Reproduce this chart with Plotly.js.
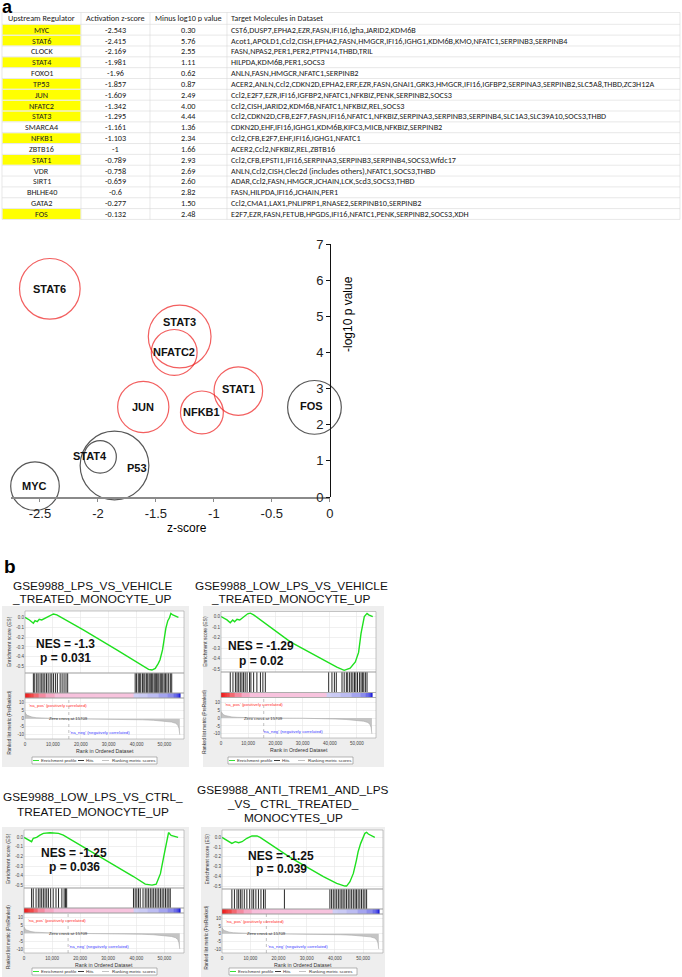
<!DOCTYPE html>
<html><head><meta charset="utf-8">
<script src="https://cdn.plot.ly/plotly-3.0.1.min.js"></script>
<style>html,body{margin:0;padding:0;background:#fff}#chart{width:682px;height:977px}</style>
</head><body><div id="chart"></div>
<script>
// ================= DATA =================
// Panel a: table
const tableHeaders = ['Upstream Regulator','Activation z-score','Minus log10 p value','Target Molecules in Dataset'];
const regulators = ['MYC','STAT6','CLOCK','STAT4','FOXO1','TP53','JUN','NFATC2','STAT3','SMARCA4','NFKB1','ZBTB16','STAT1','VDR','SIRT1','BHLHE40','GATA2','FOS'];
const zScores = [-2.543,-2.415,-2.169,-1.981,-1.96,-1.857,-1.609,-1.342,-1.295,-1.161,-1.103,-1,-0.789,-0.758,-0.659,-0.6,-0.277,-0.132];
const minusLog10P = [0.30,5.76,2.55,1.11,0.62,0.87,2.49,4.00,4.44,1.36,2.34,1.66,2.93,2.69,2.60,2.82,1.50,2.48];
const targetMolecules = [
 'CST6,DUSP7,EPHA2,EZR,FASN,IFI16,Igha,JARID2,KDM6B',
 'Acot1,APOLD1,Ccl2,CISH,EPHA2,FASN,HMGCR,IFI16,IGHG1,KDM6B,KMO,NFATC1,SERPINB3,SERPINB4',
 'FASN,NPAS2,PER1,PER2,PTPN14,THBD,TRIL',
 'HILPDA,KDM6B,PER1,SOCS3',
 'ANLN,FASN,HMGCR,NFATC1,SERPINB2',
 'ACER2,ANLN,Ccl2,CDKN2D,EPHA2,ERF,EZR,FASN,GNAI1,GRK3,HMGCR,IFI16,IGFBP2,SERPINA3,SERPINB2,SLC5A8,THBD,ZC3H12A',
 'Ccl2,E2F7,EZR,IFI16,IGFBP2,NFATC1,NFKBIZ,PENK,SERPINB2,SOCS3',
 'Ccl2,CISH,JARID2,KDM6B,NFATC1,NFKBIZ,REL,SOCS3',
 'Ccl2,CDKN2D,CFB,E2F7,FASN,IFI16,NFATC1,NFKBIZ,SERPINA3,SERPINB3,SERPINB4,SLC1A3,SLC39A10,SOCS3,THBD',
 'CDKN2D,EHF,IFI16,IGHG1,KDM6B,KIFC3,MICB,NFKBIZ,SERPINB2',
 'Ccl2,CFB,E2F7,EHF,IFI16,IGHG1,NFATC1',
 'ACER2,Ccl2,NFKBIZ,REL,ZBTB16',
 'Ccl2,CFB,EPSTI1,IFI16,SERPINA3,SERPINB3,SERPINB4,SOCS3,Wfdc17',
 'ANLN,Ccl2,CISH,Clec2d (includes others),NFATC1,SOCS3,THBD',
 'ADAR,Ccl2,FASN,HMGCR,JCHAIN,LCK,Scd3,SOCS3,THBD',
 'FASN,HILPDA,IFI16,JCHAIN,PER1',
 'Ccl2,CMA1,LAX1,PNLIPRP1,RNASE2,SERPINB10,SERPINB2',
 'E2F7,EZR,FASN,FETUB,HPGDS,IFI16,NFATC1,PENK,SERPINB2,SOCS3,XDH'
];
const highlightedRegulators = ['MYC','STAT6','STAT4','TP53','JUN','NFATC2','STAT3','NFKB1','STAT1','FOS'];
const bubbleLabelAlias = {TP53:'P53'};
const redBubbles = ['STAT6','JUN','NFATC2','STAT3','NFKB1','STAT1'];

// Panel b: GSEA
const gseaTitles = [
 ['GSE9988_LPS_VS_VEHICLE','_TREATED_MONOCYTE_UP'],
 ['GSE9988_LOW_LPS_VS_VEHICLE','_TREATED_MONOCYTE_UP'],
 ['GSE9988_LOW_LPS_VS_CTRL_','TREATED_MONOCYTE_UP'],
 ['GSE9988_ANTI_TREM1_AND_LPS','_VS_ CTRL_TREATED_','MONOCYTES_UP']
];
const gseaNES = ['-1.3','-1.29','-1.25','-1.25'];
const gseaP = ['0.031','0.02','0.036','0.039'];

const esRank1 = [0,1600,3000,3600,4400,5100,6000,7200,8400,10200,11400,20900,32900,41300,44300,45500,46700,47800,48400,49300,49900,50500,51200,51800,52300,53000,55000];
const esScore1 = [0,-0.027,-0.06,-0.034,-0.044,-0.02,-0.027,-0.01,0.014,0.034,0.024,-0.128,-0.33,-0.48,-0.527,-0.534,-0.517,-0.466,-0.43,-0.33,-0.21,-0.11,-0.034,-0.005,0.04,0.024,0];
const esRank2 = [0,2200,3400,4300,5000,5900,6900,8300,9800,10800,12000,25500,37700,42600,45300,47500,49400,50600,51500,52200,52700,53700,54300,55800];
const esScore2 = [0,-0.032,-0.058,-0.032,-0.05,-0.026,-0.032,0,0.026,0.032,0.016,-0.24,-0.417,-0.48,-0.51,-0.49,-0.43,-0.34,-0.16,-0.08,0,0.03,0.016,0];
const esRank3 = [0,1500,2700,3300,4500,5700,6900,9300,12300,14000,20000,27100,33000,39000,43200,45600,47100,48600,49800,50400,51000,51500,52400,54900];
const esScore3 = [0,-0.028,-0.045,-0.01,0,0.024,0.042,0.049,0.042,0.024,-0.08,-0.2,-0.31,-0.41,-0.49,-0.5,-0.49,-0.38,-0.2,-0.1,-0.03,0.05,0.02,0];
const esRank4 = [0,1800,3500,4700,5900,7100,8800,10600,12400,13500,24100,35900,40600,43500,44100,45300,46500,47600,48200,49100,50000,50600,51200,51800,54100];
const esScore4 = [0,-0.034,-0.062,-0.045,-0.055,-0.045,-0.01,0.014,0.014,0,-0.205,-0.404,-0.473,-0.5,-0.5,-0.455,-0.37,-0.233,-0.147,-0.062,-0.01,0.041,0.051,0.034,0];

const hits1 = [3000,3500,4200,4700,5400,6000,6500,7100,7700,8300,9000,9600,10200,10900,11600,12600,13300,14000,14700,15300,39500,40000,40600,41100,41500,42100,42600,43000,43600,44000,44500,44900,45400,45800,46300,46700,47100,47600,48000,48500,49000,49400,49900,50400,50900,51500,52100,52600];
const hits2 = [3400,4400,5300,5900,6500,7100,7700,8300,8900,9600,10500,11000,12000,13200,14500,15400,16300,39600,40800,41700,42400,44500,45300,46100,46600,47300,47900,48500,49100,49600,50200,50900,51500,52000,52500,53100,53700];
const hits3 = [2700,3300,4300,5100,5700,6300,6900,7500,8100,8700,9500,10400,11400,12300,13500,14300,14800,15200,39000,39600,40200,40800,41400,42400,43200,43800,44400,45000,45600,46200,46800,47400,48000,48600,49200,49800,50400,51000,51600,52100];
const hits4 = [3500,4400,5300,5900,6500,7100,7900,8800,9800,10600,11200,12000,12900,13800,14700,15300,22100,38200,38800,39400,40000,40600,41200,41800,42400,42900,43500,44100,44700,45300,45900,46500,47100,47600,48200,48800,49400,50000,50600,51200];

const metricRank = [0,300,800,1500,2500,4000,6000,9000,12000,15709,20000,30000,38500,39500,42000,46000,50000,52500,54000,54800,55200,55500];
const metricScore = [4.2,3.0,2.2,1.6,1.1,0.7,0.45,0.25,0.1,0,-0.05,-0.1,-0.15,-0.5,-0.6,-0.9,-1.4,-2.0,-2.8,-4.0,-6.0,-10.0];
const zeroCross = 15709;

const esRanks = [esRank1,esRank2,esRank3,esRank4];
const esScores = [esScore1,esScore2,esScore3,esScore4];
const hitSets = [hits1,hits2,hits3,hits4];

// ================= LAYOUT HELPERS =================
const W = 682, H = 977;
const fx = p => p / W, fy = p => 1 - p / H;
const SANS = 'Liberation Sans, Arial, Helvetica, sans-serif';
const NARROW = 'Liberation Sans Narrow, Arial Narrow, Liberation Sans, Arial, sans-serif';
const TFONT = 'Carlito, Lato, Liberation Sans, sans-serif';

const data = [], annotations = [], shapes = [];
const layout = {
  width: W, height: H, margin: {l:0, r:0, t:0, b:0},
  paper_bgcolor: '#ffffff', plot_bgcolor: 'rgba(0,0,0,0)', showlegend: false,
  font: {family: SANS, color: '#000'}, hovermode: false
};
function txt(xp, yp, text, size, opts) {
  annotations.push(Object.assign({x: fx(xp), y: fy(yp), xref:'paper', yref:'paper', text: text,
    showarrow:false, xanchor:'center', yanchor:'middle', borderpad:0,
    font:{size:size, family:SANS, color:'#000'}}, opts || {}));
}
function hline(x0, x1, y, color, w) {
  shapes.push({type:'line', xref:'paper', yref:'paper', x0:fx(x0), x1:fx(x1), y0:fy(y), y1:fy(y), line:{color:color, width:w}});
}
function vline(x, y0, y1, color, w) {
  shapes.push({type:'line', xref:'paper', yref:'paper', x0:fx(x), x1:fx(x), y0:fy(y0), y1:fy(y1), line:{color:color, width:w}});
}

// ---------- panel letters ----------
txt(1, 7, '<b>a</b>', 18, {xanchor:'left', font:{size:18, family:SANS, color:'#000'}});
txt(3, 566, '<b>b</b>', 19, {xanchor:'left', font:{size:19, family:SANS, color:'#000'}});

// ---------- table (drawn cell by cell from the arrays) ----------
const colEdges = [2, 81, 150, 227, 680];
const tTop = 12.5, headH = 11.8, rowH = 10.84;
const tBottom = tTop + headH + regulators.length * rowH;
const tCell = {size:8.2, family:TFONT, color:'#222'};
const cols = [regulators, zScores.map(String), minusLog10P.map(v => v.toFixed(2)), targetMolecules];
regulators.forEach((r, i) => {
  if (highlightedRegulators.includes(r)) {
    const y0 = tTop + headH + i * rowH;
    shapes.push({type:'rect', xref:'paper', yref:'paper', x0:fx(colEdges[0]+0.5), x1:fx(colEdges[1]-0.5),
      y0:fy(y0 + rowH - 0.5), y1:fy(y0 + 0.5), fillcolor:'#ffff00', line:{width:0}, layer:'below'});
  }
});
for (let i = 0; i <= regulators.length + 1; i++) {
  const y = i === 0 ? tTop : tTop + headH + (i - 1) * rowH;
  hline(colEdges[0], colEdges[4], y, '#d9d9d9', 0.6);
}
colEdges.forEach(x => vline(x, tTop, tBottom, '#d9d9d9', 0.6));
tableHeaders.forEach((h, c) => {
  const left = c === 3;
  txt(left ? colEdges[c] + 3 : (colEdges[c] + colEdges[c+1]) / 2, tTop + headH / 2, h, 8.2,
    {xanchor: left ? 'left' : 'center', font:tCell});
});
cols.forEach((col, c) => {
  const left = c === 3;
  col.forEach((v, i) => {
    txt(left ? colEdges[c] + 3 : (colEdges[c] + colEdges[c+1]) / 2, tTop + headH + (i + 0.5) * rowH, v, 8.2,
      {xanchor: left ? 'left' : 'center', font:tCell});
  });
});

// ---------- bubble chart ----------
const bIdx = highlightedRegulators.map(r => regulators.indexOf(r));
const bNames = highlightedRegulators.map(r => bubbleLabelAlias[r] || r);
data.push({
  type: 'scatter', mode: 'markers', xaxis: 'x', yaxis: 'y', cliponaxis: false, hoverinfo: 'skip',
  x: bIdx.map(i => zScores[i]), y: bIdx.map(i => minusLog10P[i]),
  marker: {
    size: bIdx.map(i => targetMolecules[i].split(',').length),
    sizemode: 'area', sizeref: 2.1 / (16.6 * 16.6),
    color: 'rgba(0,0,0,0)',
    line: {width: 1.2, color: highlightedRegulators.map(r => redBubbles.includes(r) ? '#ee1c1c' : '#111111')}
  }
});
const labelShift = {STAT3:[0,15], STAT4:[-10,1], P53:[22,-2], FOS:[-3,1], STAT1:[0,2]};
bIdx.forEach((i, j) => {
  const s = labelShift[bNames[j]] || [0,0];
  annotations.push({x: zScores[i], y: minusLog10P[i], xref:'x', yref:'y', text:'<b>'+bNames[j]+'</b>',
    showarrow:false, xshift:s[0], yshift:s[1], font:{size:11, family:SANS, color:'#111'}});
});
const zTicks = [-2.5,-2,-1.5,-1,-0.5,0];
const pTicks = [0,1,2,3,4,5,6,7];
layout.xaxis = {domain:[fx(11), fx(330)], range:[-2.75, 0.002], anchor:'y', showline:true, linecolor:'#8a8a8a', linewidth:2,
  ticks:'outside', ticklen:3, tickcolor:'#8a8a8a', tickvals: zTicks, ticktext: zTicks.map(String),
  showgrid:false, zeroline:false, tickfont:{size:13, family:NARROW, color:'#222'}, fixedrange:true};
layout.yaxis = {domain:[fy(497), fy(244)], range:[0,7], anchor:'free', position:fx(330), side:'left', showline:true, linecolor:'#111', linewidth:1,
  ticks:'outside', ticklen:4, tickcolor:'#111', tickvals: pTicks, ticktext: pTicks.map(String),
  showgrid:false, zeroline:false, tickfont:{size:13, family:NARROW, color:'#222'}, fixedrange:true};
txt(187, 528, 'z-score', 12);
txt(348, 314, '-log10 p value', 12, {textangle:-90});

// ---------- GSEA panels ----------
const panelGeo = [
 {box:[2,606,189,767], x:[25,184], es:[611,673], hits:[673,693], grad:[693,698], met:[698,739], titleX:92, titleY:[585.5,598.5], nes:[65,644], p:[65,658], leg:[32,757,157,764], esRange:[-0.564,0.064]},
 {box:[203,606,384,767], x:[221,376], es:[611.5,672], hits:[672,692.5], grad:[692.5,697.5], met:[697.5,738], titleX:291, titleY:[585.5,598.5], nes:[261,646], p:[261,661], leg:[228,757,353,764], esRange:[-0.526,0.048]},
 {box:[2,827,189,977], x:[24,184], es:[830,888], hits:[888,908], grad:[908,913], met:[913,953], titleX:93, titleY:[797,811.5], nes:[74,853], p:[74,867], leg:[32,968,157,975], esRange:[-0.53,0.077]},
 {box:[201,827,385,977], x:[222,383], es:[830,889], hits:[889,909], grad:[909,914], met:[914,953], titleX:293, titleY:[790,804,818], nes:[281,856], p:[281,869], leg:[229,968,357,975], esRange:[-0.53,0.075]}
];
const rankTicks = [0,10000,20000,30000,40000,50000];
const esTicks = [0,-0.1,-0.2,-0.3,-0.4,-0.5];
const metTicks = [10,5,0,-5,-10];
const gradScale = [
 [0,'#1a1ad0'],[0.282,'#2a2ae0'],[0.507,'#6c6ce8'],[0.606,'#a4a4ef'],[0.669,'#cfcff5'],[0.683,'#d8d8f6'],
 [0.69,'#f7c4de'],[0.711,'#f7c0dc'],[0.722,'#f5a8c4'],[0.736,'#f48aa0'],[0.754,'#f26870'],[0.782,'#f04848'],[0.859,'#ee2828'],[1,'#ee1010']];
const tiny = {size:4.5, family:SANS, color:'#444'};

panelGeo.forEach((g, k) => {
  const nE = 2 + 4*k, nH = nE + 1, nG = nE + 2, nM = nE + 3;
  const xd = [fx(g.x[0]), fx(g.x[1])];
  const yd = r => [fy(r[1]), fy(r[0])];
  shapes.push({type:'rect', xref:'paper', yref:'paper', x0:fx(g.box[0]), x1:fx(g.box[2]), y0:fy(g.box[3]), y1:fy(g.box[1]),
    fillcolor:'#eeeeee', line:{width:0}, layer:'below'});
  shapes.push({type:'rect', xref:'paper', yref:'paper', x0:xd[0], x1:xd[1], y0:fy(g.met[1]), y1:fy(g.es[0]),
    fillcolor:'#ffffff', line:{width:0}, layer:'below'});
  const baseX = {range:[0,57000], domain:xd, showgrid:false, zeroline:false, showticklabels:false, ticks:'', fixedrange:true, tickvals:rankTicks};
  layout['xaxis'+nE] = Object.assign({}, baseX, {anchor:'y'+nE, showgrid:true, gridcolor:'#e6e6e6', gridwidth:0.6});
  layout['xaxis'+nH] = Object.assign({}, baseX, {anchor:'y'+nH});
  layout['xaxis'+nG] = Object.assign({}, baseX, {anchor:'y'+nG});
  layout['xaxis'+nM] = Object.assign({}, baseX, {anchor:'y'+nM, showgrid:true, gridcolor:'#e6e6e6', gridwidth:0.6,
    showticklabels:true, ticktext: rankTicks.map(v => v.toLocaleString('en-US')), tickfont:tiny, ticklabelstandoff:1});
  layout['yaxis'+nE] = {domain:yd(g.es), range:g.esRange, anchor:'x'+nE, showgrid:true, gridcolor:'#e6e6e6', gridwidth:0.6,
    zeroline:false, ticks:'', tickvals:esTicks, ticktext:esTicks.map(v => v.toFixed(1)), tickfont:tiny, fixedrange:true};
  layout['yaxis'+nH] = {domain:yd(g.hits), range:[0,1], anchor:'x'+nH, showgrid:false, zeroline:false, showticklabels:false, ticks:'', fixedrange:true};
  layout['yaxis'+nG] = {domain:yd(g.grad), range:[-0.5,0.5], anchor:'x'+nG, showgrid:false, zeroline:false, showticklabels:false, ticks:'', fixedrange:true};
  layout['yaxis'+nM] = {domain:yd(g.met), range:[-12.6,13], anchor:'x'+nM, showgrid:true, gridcolor:'#e6e6e6', gridwidth:0.6,
    zeroline:false, ticks:'', tickvals:metTicks, ticktext:metTicks.map(String), tickfont:tiny, fixedrange:true};

  data.push({type:'scatter', mode:'lines', x:esRanks[k], y:esScores[k], xaxis:'x'+nE, yaxis:'y'+nE,
    line:{color:'#1ee01e', width:1.4}, hoverinfo:'skip'});
  const hs = hitSets[k];
  data.push({type:'scatter', mode:'lines', x:hs.flatMap(r => [r, r, null]), y:hs.flatMap(() => [0, 1, null]),
    xaxis:'x'+nH, yaxis:'y'+nH, line:{color:'#111', width:0.9}, hoverinfo:'skip'});
  data.push({type:'heatmap', x:metricRank, y:[0], z:[metricScore], zmin:-10, zmax:4.2, colorscale:gradScale,
    showscale:false, xaxis:'x'+nG, yaxis:'y'+nG, hoverinfo:'skip'});
  data.push({type:'scatter', mode:'lines', x:metricRank, y:metricScore, fill:'tozeroy', fillcolor:'#c4c4c4',
    line:{color:'#a8a8a8', width:0.6}, xaxis:'x'+nM, yaxis:'y'+nM, hoverinfo:'skip'});
  shapes.push({type:'line', xref:'x'+nM, yref:'y'+nM+' domain', x0:zeroCross, x1:zeroCross, y0:0, y1:1,
    line:{color:'#999', width:0.6, dash:'dot'}});
  [['x'+nE,'y'+nE],['x'+nH,'y'+nH],['x'+nG,'y'+nG],['x'+nM,'y'+nM]].forEach(p => {
    shapes.push({type:'rect', xref:p[0]+' domain', yref:p[1]+' domain', x0:0, x1:1, y0:0, y1:1,
      line:{color:'#a0a0a0', width:0.6}, fillcolor:'rgba(0,0,0,0)', layer:'above'});
  });
  annotations.push({xref:'x'+nM, yref:'y'+nM, x:zeroCross, y:0, text:'Zero cross at '+zeroCross, showarrow:false,
    font:{size:4.3, family:SANS, color:'#333'}});
  annotations.push({xref:'x'+nM+' domain', yref:'y'+nM+' domain', x:0.01, y:0.93, xanchor:'left', text:"'na_pos' (positively correlated)",
    showarrow:false, font:{size:4.3, family:SANS, color:'#ff2a2a'}});
  annotations.push({xref:'x'+nM+' domain', yref:'y'+nM+' domain', x:0.67, y:0.05, text:"'na_neg' (negatively correlated)",
    showarrow:false, font:{size:4.3, family:SANS, color:'#3a3aff'}});
  txt(g.x[0] - 16, (g.es[0] + g.es[1]) / 2, 'Enrichment score (ES)', 5, {textangle:-90, font:{size:5, family:SANS, color:'#333'}});
  txt(g.x[0] - 16, (g.met[0] + g.met[1]) / 2 + 4, 'Ranked list metric (PreRanked)', 4.6, {textangle:-90, font:{size:4.6, family:SANS, color:'#333'}});
  txt((g.x[0] + g.x[1]) / 2, g.met[1] + 12, 'Rank in Ordered Dataset', 5.2, {font:{size:5.2, family:SANS, color:'#333'}});
  gseaTitles[k].forEach((line, j) => txt(g.titleX, g.titleY[j], line, 11.8, {font:{size:11.8, family:SANS, color:'#111'}}));
  txt(g.nes[0], g.nes[1], '<b>NES = ' + gseaNES[k] + '</b>', 12, {font:{size:12, family:SANS, color:'#111'}});
  txt(g.p[0], g.p[1], '<b>p = ' + gseaP[k] + '</b>', 12, {font:{size:12, family:SANS, color:'#111'}});
  const L = g.leg, ym = (L[1] + L[3]) / 2;
  shapes.push({type:'rect', xref:'paper', yref:'paper', x0:fx(L[0]), x1:fx(L[2]), y0:fy(L[3]), y1:fy(L[1]),
    fillcolor:'#ffffff', line:{color:'#888', width:0.6}});
  [[1,7,'#1ee01e',8,'Enrichment profile'],[46,52,'#222',53,'Hits'],[70,77,'#bbb',79,'Ranking metric scores']].forEach(it => {
    shapes.push({type:'line', xref:'paper', yref:'paper', x0:fx(L[0]+it[0]), x1:fx(L[0]+it[1]), y0:fy(ym), y1:fy(ym),
      line:{color:it[2], width:0.9}});
    txt(L[0] + it[3], ym, it[4], 4.4, {xanchor:'left', font:{size:4.4, family:SANS, color:'#333'}});
  });
});

layout.annotations = annotations;
layout.shapes = shapes;
Plotly.newPlot('chart', data, layout, {staticPlot:true, displayModeBar:false});
</script>
</body></html>
